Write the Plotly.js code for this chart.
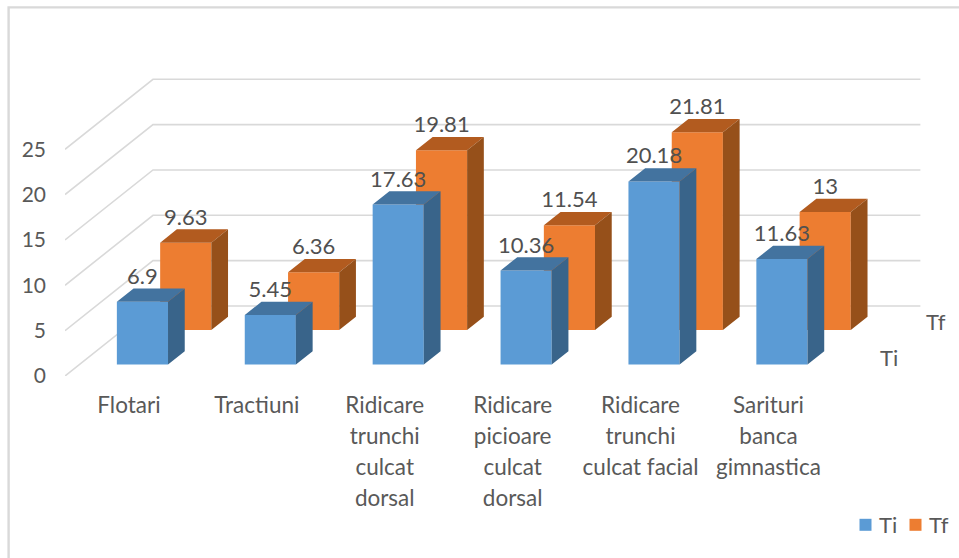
<!DOCTYPE html>
<html>
<head>
<meta charset="utf-8">
<script src="https://cdn.plot.ly/plotly-3.0.1.min.js"></script>
<style>
  html, body { margin: 0; padding: 0; background: #fff; }
  #chart { width: 959px; height: 558px; }
  /* Keep legend swatches close to their labels and let the last label run past the narrow entry */
  #chart .legendpoints { transform: translate(6.5px, 0); }
  #chart .legend .scrollbox { clip-path: none; }
</style>
</head>
<body>
<div id="chart"></div>
<script>
// Exercise results per test, initial (Ti) and final (Tf)
const categories = [
  ['Flotari'],
  ['Tractiuni'],
  ['Ridicare', 'trunchi', 'culcat', 'dorsal'],
  ['Ridicare', 'picioare', 'culcat', 'dorsal'],
  ['Ridicare', 'trunchi', 'culcat facial'],
  ['Sarituri', 'banca', 'gimnastica']
];
const valuesTi = [6.9, 5.45, 17.63, 10.36, 20.18, 11.63];
const valuesTf = [9.63, 6.36, 19.81, 11.54, 21.81, 13];
const axisTicks = [0, 5, 10, 15, 20, 25];

// Oblique projection: going one full depth back moves a point right and up
const DEPTH_X = 0.688;      // category units
const DEPTH_Y = 7.72;       // value units
const DEPTH_TI = 0.165;     // row position of each series
const DEPTH_TF = 0.657;
const BAR_DEPTH = 0.19;
const BAR_WIDTH = 0.4;
const BAR_NUDGE = -0.008;
const LABEL_GAP = 1.12;
const X_RANGE = [-0.5, 6.49];
const Y_RANGE = [0, 41.46];
const PAGE_W = 959, PAGE_H = 558;
const X_DOMAIN = [65 / PAGE_W, 1];
const Y_DOMAIN = [182 / PAGE_H, 1];
const FONT = 'Lato, "Noto Sans", sans-serif';
const TEXT_COLOR = '#595959';
const GRID_COLOR = '#D9D9D9';

const indices = categories.map((_, i) => i);

function gridTrace() {
  const x = [], y = [];
  axisTicks.forEach(v => {
    x.push(-0.5, -0.5 + DEPTH_X, 5.5 + DEPTH_X, null);
    y.push(v, v + DEPTH_Y, v + DEPTH_Y, null);
  });
  return { type: 'scatter', mode: 'lines', x, y, xaxis: 'x', yaxis: 'y',
           line: { color: GRID_COLOR, width: 1.6 }, hoverinfo: 'skip', showlegend: false };
}

function polygonTrace(xs, ys, color, ax) {
  return { type: 'scatter', mode: 'lines', x: xs, y: ys, fill: 'toself', fillcolor: color,
           line: { width: 0 }, xaxis: 'x' + ax, yaxis: 'y' + ax, hoverinfo: 'skip', showlegend: false };
}

// One series: front faces as real bars, top and side faces as polygons on the same scale
function seriesTraces(name, values, depth, colors, ax) {
  const shiftX = depth * DEPTH_X + BAR_NUDGE, shiftY = depth * DEPTH_Y;
  const bx = BAR_DEPTH * DEPTH_X, by = BAR_DEPTH * DEPTH_Y, hw = BAR_WIDTH / 2;
  const topX = [], topY = [], sideX = [], sideY = [];
  values.forEach((v, i) => {
    const l = i + shiftX - hw, r = i + shiftX + hw, t = v + shiftY;
    topX.push(l, r, r + bx, l + bx, l, null);
    topY.push(t, t, t + by, t + by, t, null);
    sideX.push(r, r + bx, r + bx, r, r, null);
    sideY.push(shiftY, shiftY + by, t + by, t, shiftY, null);
  });
  return [
    { type: 'bar', name, x: indices.map(i => i + shiftX), y: values, base: values.map(() => shiftY),
      width: BAR_WIDTH, marker: { color: colors.front, line: { width: 0 } },
      xaxis: 'x' + ax, yaxis: 'y' + ax, hoverinfo: 'skip' },
    polygonTrace(topX, topY, colors.top, ax),
    polygonTrace(sideX, sideY, colors.side, ax)
  ];
}

function labelTrace(values, depth) {
  const shiftX = depth * DEPTH_X + BAR_NUDGE, shiftY = depth * DEPTH_Y;
  return { type: 'scatter', mode: 'text', xaxis: 'x4', yaxis: 'y4',
           x: indices.map(i => i + shiftX),
           y: values.map(v => v + shiftY + BAR_DEPTH * DEPTH_Y + LABEL_GAP),
           text: values.map(String), textposition: 'middle center', cliponaxis: false,
           textfont: { family: FONT, size: 22, color: '#505050' },
           hoverinfo: 'skip', showlegend: false };
}

const blue = { front: '#5B9BD5', top: '#43739F', side: '#39648A' };
const orange = { front: '#ED7D31', top: '#B25B1F', side: '#96501A' };

const traces = [
  gridTrace(),
  ...seriesTraces('Tf', valuesTf, DEPTH_TF, orange, '2'),
  ...seriesTraces('Ti', valuesTi, DEPTH_TI, blue, '3'),
  labelTrace(valuesTf, DEPTH_TF),
  labelTrace(valuesTi, DEPTH_TI)
];

// Tick labels: outer font size sets the line pitch, inner span sets the glyph size
const tickText = categories.map(lines =>
  lines.map(s => '<span style="font-size:22.5px">' + s + '</span>').join('<br>'));

const overlayAxis = over => ({
  range: over.startsWith('x') ? X_RANGE : Y_RANGE,
  domain: over.startsWith('x') ? X_DOMAIN : Y_DOMAIN,
  overlaying: over, visible: false, fixedrange: true
});

const layout = {
  width: PAGE_W, height: PAGE_H, autosize: false,
  margin: { l: 0, r: 0, t: 0, b: 0, pad: 0 },
  paper_bgcolor: '#fff', plot_bgcolor: 'rgba(0,0,0,0)',
  barmode: 'overlay',
  showlegend: true,
  legend: { orientation: 'h', x: 839 / PAGE_W, xanchor: 'left', y: (PAGE_H - 525) / PAGE_H, yanchor: 'middle',
            entrywidth: 5, entrywidthmode: 'pixels', traceorder: 'reversed',
            font: { family: FONT, size: 22, color: TEXT_COLOR }, bgcolor: 'rgba(0,0,0,0)' },
  xaxis: { domain: X_DOMAIN, range: X_RANGE, tickmode: 'array', tickvals: indices, ticktext: tickText, tickangle: 0,
           tickfont: { family: FONT, size: 24, color: TEXT_COLOR }, showgrid: false, zeroline: false,
           showline: false, ticks: 'outside', ticklen: 7, tickcolor: 'rgba(0,0,0,0)', fixedrange: true },
  yaxis: { domain: Y_DOMAIN, range: Y_RANGE, tickmode: 'array', tickvals: axisTicks,
           tickfont: { family: FONT, size: 21, color: TEXT_COLOR }, showgrid: false, zeroline: false,
           showline: false, ticks: '', fixedrange: true, ticklabelstandoff: 18 },
  xaxis2: overlayAxis('x'), yaxis2: overlayAxis('y'),
  xaxis3: overlayAxis('x'), yaxis3: overlayAxis('y'),
  xaxis4: overlayAxis('x'), yaxis4: overlayAxis('y'),
  annotations: [
    { text: 'Ti', xref: 'x', yref: 'y', x: 5.5 + DEPTH_TI * DEPTH_X + 0.33, y: DEPTH_TI * DEPTH_Y + 0.8,
      showarrow: false, font: { family: FONT, size: 22, color: TEXT_COLOR } },
    { text: 'Tf', xref: 'x', yref: 'y', x: 5.5 + DEPTH_TF * DEPTH_X + 0.355, y: DEPTH_TF * DEPTH_Y + 0.9,
      showarrow: false, font: { family: FONT, size: 22, color: TEXT_COLOR } }
  ],
  shapes: [
    { type: 'path', xref: 'paper', yref: 'paper', layer: 'below',
      path: 'M ' + 8.6 / PAGE_W + ' 0 L ' + 8.6 / PAGE_W + ' ' + (PAGE_H - 7.4) / PAGE_H + ' L 1 ' + (PAGE_H - 7.4) / PAGE_H,
      line: { color: GRID_COLOR, width: 2.4 } }
  ]
};

Plotly.newPlot('chart', traces, layout, { displayModeBar: false, staticPlot: true });
</script>
</body>
</html>
